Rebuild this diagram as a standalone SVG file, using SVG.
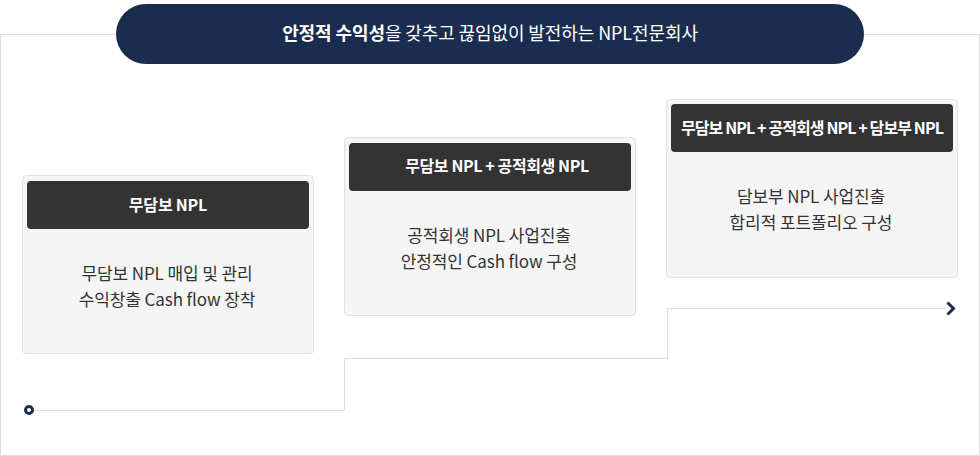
<svg xmlns="http://www.w3.org/2000/svg" width="980" height="456" viewBox="0 0 980 456">
<style>
text{font-family:"Noto Sans CJK KR","Noto Sans",sans-serif;}
.card{fill:#f5f5f5;stroke:#e0e0e0;stroke-width:1;}
.head{fill:#333333;}
.ht{fill:#ffffff;font-size:16px;font-weight:700;text-anchor:middle;letter-spacing:-0.2px;}
.bt{fill:#333333;font-size:17px;font-weight:400;text-anchor:middle;letter-spacing:-0.1px;}
.conn{fill:none;stroke:#dddddd;stroke-width:1;}
</style>
<rect width="980" height="456" fill="#ffffff"/>
<rect x="0.5" y="34.5" width="979" height="421" fill="none" stroke="#dddddd" stroke-width="1"/>
<g id="title">
<rect x="116" y="4" width="748" height="60" rx="30" ry="30" fill="#1b2d4f"/>
<text x="490" y="40" fill="#ffffff" font-size="18" text-anchor="middle" letter-spacing="-0.1"><tspan font-weight="700">안정적 수익성</tspan>을 갖추고 끊임없이 발전하는 NPL전문회사</text>
</g>
<g id="connectors">
<path class="conn" d="M33,410.5 H344.5 V358.5 H667.5 V308.5 H946"/>
<circle cx="29" cy="410" r="3.5" fill="#ffffff" stroke="#1b2d4f" stroke-width="3"/>
<polyline points="947.5,302.5 953.5,308.5 947.5,314.5" fill="none" stroke="#1b2d4f" stroke-width="3"/>
</g>
<g id="step1">
<rect class="card" x="22.5" y="175.5" width="291" height="178" rx="4"/>
<rect class="head" x="27" y="181" width="282" height="48" rx="4"/>
<text class="ht" x="168" y="211">무담보 NPL</text>
<text class="bt" x="167" y="280">무담보 NPL 매입 및 관리</text>
<text class="bt" x="167" y="306">수익창출 Cash flow 장착</text>
</g>
<g id="step2">
<rect class="card" x="344.5" y="137.5" width="291" height="178" rx="4"/>
<rect class="head" x="349" y="143" width="282" height="48" rx="4"/>
<text class="ht" x="497" y="172" style="letter-spacing:-0.4px">무담보 NPL + 공적회생 NPL</text>
<text class="bt" x="489" y="242">공적회생 NPL 사업진출</text>
<text class="bt" x="489" y="268">안정적인 Cash flow 구성</text>
</g>
<g id="step3">
<rect class="card" x="666.5" y="99.5" width="291" height="178" rx="4"/>
<rect class="head" x="671" y="104" width="282" height="48" rx="4"/>
<text class="ht" x="812" y="134" style="letter-spacing:-0.9px">무담보 NPL + 공적회생 NPL + 담보부 NPL</text>
<text class="bt" x="811" y="203">담보부 NPL 사업진출</text>
<text class="bt" x="811" y="229">합리적 포트폴리오 구성</text>
</g>
</svg>
